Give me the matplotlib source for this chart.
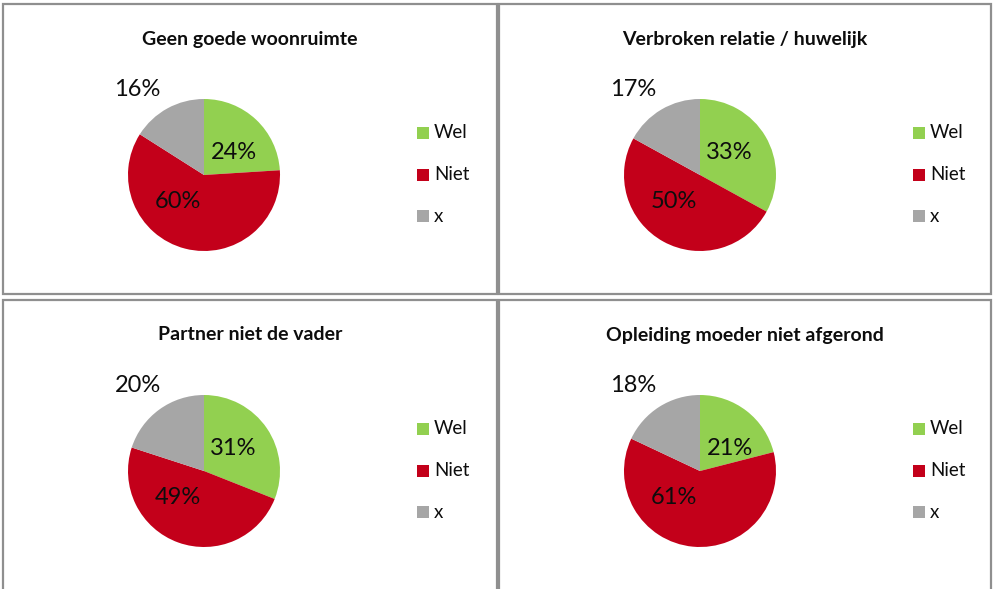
import matplotlib
matplotlib.use('Agg')
import matplotlib.pyplot as plt
from matplotlib.patches import Rectangle
import numpy as np

plt.rcParams['font.family'] = ['Lato', 'DejaVu Sans']

titles = ["Geen goede woonruimte", "Verbroken relatie / huwelijk",
          "Partner niet de vader", "Opleiding moeder niet afgerond"]
categories = ["Wel", "Niet", "x"]
wel = [24, 33, 31, 21]
niet = [60, 50, 49, 61]
x_vals = [16, 17, 20, 18]

colors = ["#92d050", "#c3001a", "#a6a6a6"]

W, H = 993, 589
def Y(y):          # pixel row -> data y
    return H - y

# panel boxes (x0, y0, x1, y1) in pixels, plus pie centre and title row
panels = [(3, 4, 497, 294), (499, 4, 991, 294),
          (3, 300, 497, 592), (499, 300, 991, 592)]
centres = [(204, 175), (700, 175), (204, 471), (700, 471)]
title_rows = [39, 39, 335, 335]
R = 76
# label placement per slice: (angle deg, distance px) from the pie centre
label_pos = [(37, 37), (225, 37), (128, 108)]

fig = plt.figure(figsize=(W/100, H/100), dpi=100)
ax = fig.add_axes([0, 0, 1, 1])

for i in range(4):
    x0, y0, x1, y1 = panels[i]
    ax.add_patch(Rectangle((x0, Y(y1)), x1 - x0, y1 - y0, fill=False,
                           edgecolor="#8f8f8f", lw=1.6, zorder=1))
    cx, cy = centres[i]
    vals = [wel[i], niet[i], x_vals[i]]
    ax.pie(vals, colors=colors, startangle=90, counterclock=False,
           center=(cx, Y(cy)), radius=R, wedgeprops=dict(linewidth=0))
    for v, (ang, d) in zip(vals, label_pos):
        a = np.deg2rad(ang)
        ax.text(cx + d*np.cos(a), Y(cy) + d*np.sin(a), f"{v}%",
                ha="center", va="center", fontsize=17, color="#0d0d0d")
    ax.text((x0 + x1)/2, Y(title_rows[i]), titles[i], ha="center", va="center",
            fontsize=14, fontweight="bold", color="#0d0d0d")
    # legend
    lx = x0 + 414
    ly0 = y0 + 129
    for k, cat in enumerate(categories):
        ly = ly0 + k*41.5
        ax.add_patch(Rectangle((lx, Y(ly) - 6), 12, 12, facecolor=colors[k],
                               edgecolor="none"))
        ax.text(lx + 17, Y(ly), cat, ha="left", va="center",
                fontsize=13.5, color="#0d0d0d")

ax.set_xlim(0, W)
ax.set_ylim(0, H)
ax.set_aspect("auto")
ax.axis("off")
fig.savefig("out.png", dpi=100)
